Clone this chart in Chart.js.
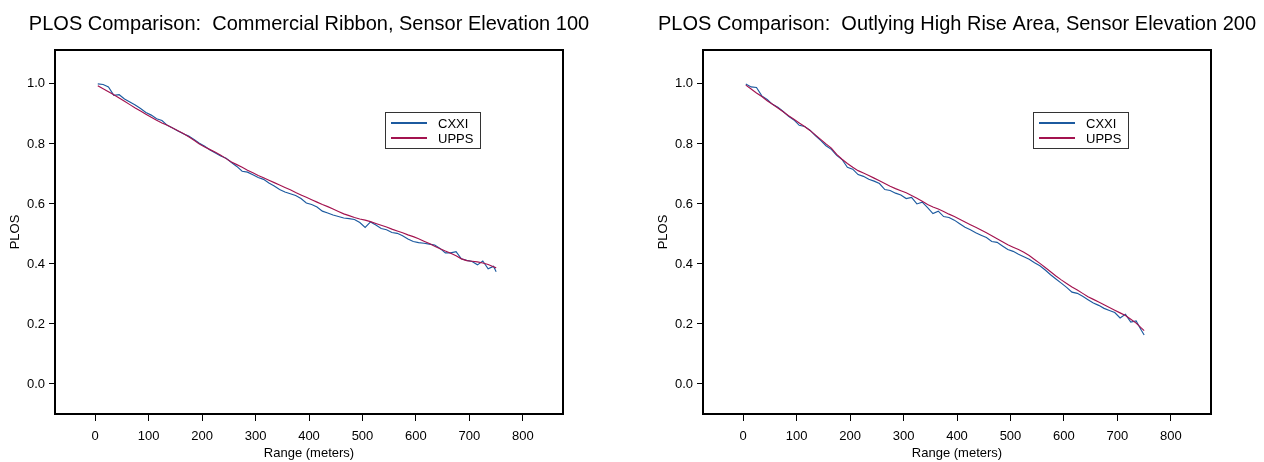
<!DOCTYPE html>
<html>
<head>
<meta charset="utf-8">
<script src="https://cdn.jsdelivr.net/npm/chart.js@4/dist/chart.umd.min.js"></script>
<style>
  body { margin: 0; background: #fff; overflow: hidden; width: 1264px; height: 462px; position: relative; }
  canvas { position: absolute; top: 0; }
</style>
</head>
<body>
<canvas id="chartLeft" width="618" height="462" style="left:0"></canvas>
<canvas id="chartRight" width="618" height="462" style="left:648px"></canvas>
<script>
// --- Data
const rangeM = [5, 15, 25, 35, 45, 55, 65, 75, 85, 95, 105, 115, 125, 135, 145, 155, 165, 175, 185, 195,
  205, 215, 225, 235, 245, 255, 265, 275, 285, 295, 305, 315, 325, 335, 345, 355, 365, 375, 385, 395,
  405, 415, 425, 435, 445, 455, 465, 475, 485, 495, 505, 515, 525, 535, 545, 555, 565, 575, 585, 595,
  605, 615, 625, 635, 645, 655, 665, 675, 685, 695, 705, 715, 725, 735, 745, 750];

const ribbonCXXI = [1.000, 0.998, 0.990, 0.962, 0.964, 0.950, 0.940, 0.930, 0.918, 0.905, 0.896, 0.884, 0.878, 0.862, 0.853, 0.843, 0.834, 0.826, 0.815, 0.802,
  0.792, 0.780, 0.770, 0.760, 0.752, 0.738, 0.725, 0.709, 0.706, 0.697, 0.688, 0.682, 0.670, 0.660, 0.648, 0.640, 0.634, 0.628, 0.618, 0.603,
  0.598, 0.590, 0.576, 0.570, 0.563, 0.558, 0.553, 0.551, 0.548, 0.538, 0.522, 0.540, 0.530, 0.518, 0.514, 0.505, 0.502, 0.494, 0.483, 0.475,
  0.471, 0.469, 0.466, 0.463, 0.452, 0.437, 0.437, 0.441, 0.417, 0.412, 0.408, 0.397, 0.410, 0.384, 0.392, 0.374];
const ribbonUPPS = [0.994, 0.984, 0.974, 0.964, 0.953, 0.942, 0.931, 0.920, 0.910, 0.899, 0.889, 0.879, 0.870, 0.862, 0.853, 0.844, 0.835, 0.824, 0.812, 0.800,
  0.790, 0.781, 0.772, 0.762, 0.751, 0.740, 0.731, 0.722, 0.712, 0.704, 0.695, 0.687, 0.679, 0.671, 0.663, 0.655, 0.647, 0.638, 0.630, 0.622,
  0.614, 0.606, 0.598, 0.591, 0.583, 0.575, 0.567, 0.561, 0.555, 0.550, 0.546, 0.541, 0.535, 0.529, 0.523, 0.516, 0.510, 0.504, 0.497, 0.491,
  0.484, 0.476, 0.468, 0.459, 0.451, 0.443, 0.436, 0.427, 0.417, 0.411, 0.409, 0.407, 0.403, 0.398, 0.391, 0.387];

const highRiseCXXI = [1.000, 0.990, 0.988, 0.960, 0.948, 0.932, 0.922, 0.908, 0.892, 0.880, 0.862, 0.858, 0.846, 0.828, 0.812, 0.794, 0.782, 0.762, 0.748, 0.722,
  0.716, 0.698, 0.692, 0.682, 0.676, 0.668, 0.648, 0.645, 0.636, 0.630, 0.618, 0.622, 0.600, 0.606, 0.588, 0.568, 0.576, 0.558, 0.555, 0.546,
  0.534, 0.522, 0.514, 0.504, 0.496, 0.488, 0.475, 0.472, 0.460, 0.448, 0.442, 0.432, 0.424, 0.416, 0.404, 0.394, 0.380, 0.364, 0.350, 0.336,
  0.322, 0.306, 0.302, 0.292, 0.281, 0.270, 0.262, 0.252, 0.245, 0.238, 0.220, 0.232, 0.206, 0.210, 0.178, 0.163];
const highRiseUPPS = [0.996, 0.983, 0.970, 0.958, 0.944, 0.932, 0.920, 0.907, 0.894, 0.882, 0.870, 0.858, 0.845, 0.830, 0.815, 0.800, 0.786, 0.765, 0.749, 0.735,
  0.722, 0.711, 0.703, 0.695, 0.686, 0.677, 0.668, 0.659, 0.651, 0.644, 0.637, 0.628, 0.619, 0.609, 0.598, 0.590, 0.583, 0.575, 0.566, 0.558,
  0.549, 0.540, 0.531, 0.522, 0.513, 0.504, 0.494, 0.484, 0.474, 0.464, 0.456, 0.448, 0.439, 0.428, 0.415, 0.402, 0.388, 0.374, 0.360, 0.347,
  0.335, 0.323, 0.313, 0.302, 0.291, 0.282, 0.273, 0.264, 0.255, 0.246, 0.237, 0.228, 0.216, 0.203, 0.186, 0.178];

const seriesNames = ["CXXI", "UPPS"];
const xTicks = [0, 100, 200, 300, 400, 500, 600, 700, 800];
const yTicks = [0.0, 0.2, 0.4, 0.6, 0.8, 1.0];

const FONT = "'Liberation Sans', Arial, Helvetica, sans-serif";
const BLUE = "#1c5a9f";
const RED = "#a3134f";

// frame round the plot area
const framePlugin = {
  id: "frame",
  afterDatasetsDraw(chart) {
    const a = chart.chartArea, ctx = chart.ctx;
    ctx.save();
    ctx.strokeStyle = "#000";
    ctx.lineWidth = 2;
    ctx.strokeRect(a.left, a.top, a.right - a.left, a.bottom - a.top);
    ctx.restore();
  }
};

// boxed legend inside the plot, like the original
const boxLegend = {
  id: "boxLegend",
  afterDraw(chart) {
    const a = chart.chartArea, ctx = chart.ctx;
    const bx = a.left + 330, by = a.top + 62;
    ctx.save();
    ctx.fillStyle = "#fff";
    ctx.fillRect(bx, by, 95, 36);
    ctx.strokeStyle = "#333";
    ctx.lineWidth = 1;
    ctx.strokeRect(bx + 0.5, by + 0.5, 95, 36);
    chart.data.datasets.forEach((ds, i) => {
      const y = by + 11 + i * 15;
      ctx.strokeStyle = ds.borderColor;
      ctx.lineWidth = 2;
      ctx.beginPath();
      ctx.moveTo(bx + 6, y);
      ctx.lineTo(bx + 42, y);
      ctx.stroke();
      ctx.fillStyle = "#000";
      ctx.font = "13px " + FONT;
      ctx.textBaseline = "middle";
      ctx.fillText(ds.label, bx + 53, y + 1);
    });
    ctx.restore();
  }
};

function makeChart(canvasId, title, cxxi, upps) {
  const toXY = arr => arr.map((v, i) => ({ x: rangeM[i], y: v }));
  return new Chart(document.getElementById(canvasId), {
    type: "line",
    data: {
      datasets: [
        { label: seriesNames[0], data: toXY(cxxi), borderColor: BLUE, borderWidth: 1.15, pointRadius: 0, tension: 0, order: 1 },
        { label: seriesNames[1], data: toXY(upps), borderColor: RED, borderWidth: 1.15, pointRadius: 0, tension: 0, order: 0 }
      ]
    },
    options: {
      responsive: false,
      animation: false,
      devicePixelRatio: 1,
      layout: { padding: 0 },
      plugins: {
        legend: { display: false },
        tooltip: { enabled: false },
        title: {
          display: true,
          text: title,
          color: "#000",
          font: { family: FONT, size: 20, weight: "normal", lineHeight: 1.2 },
          padding: { top: 12, bottom: 14 }
        }
      },
      scales: {
        x: {
          type: "linear",
          min: -75,
          max: 875,
          afterBuildTicks: s => { s.ticks = xTicks.map(v => ({ value: v })); },
          afterFit: s => { s.height = 48; },
          grid: { drawOnChartArea: false, drawTicks: true, tickLength: 7, color: "#000" },
          border: { display: false },
          ticks: { color: "#000", font: { family: FONT, size: 13 }, padding: 8, maxRotation: 0 },
          title: { display: true, text: "Range (meters)", color: "#000", font: { family: FONT, size: 13 }, padding: { top: 0, bottom: 1 } }
        },
        y: {
          type: "linear",
          min: -0.1,
          max: 1.113,
          afterBuildTicks: s => { s.ticks = yTicks.map(v => ({ value: v })); },
          afterFit: s => { s.width = 55; },
          grid: { drawOnChartArea: false, drawTicks: true, tickLength: 6, color: "#000" },
          border: { display: false },
          ticks: { color: "#000", font: { family: FONT, size: 13 }, padding: 4, callback: v => v.toFixed(1) },
          title: { display: true, text: "PLOS", color: "#000", font: { family: FONT, size: 13 }, padding: { top: 8, bottom: 0 } }
        },
        // empty right-hand axis: keeps the plot off the right edge while the title stays centred
        yPad: {
          type: "linear",
          position: "right",
          afterFit: s => { s.width = 55; },
          grid: { display: false },
          border: { display: false },
          ticks: { display: false },
          title: { display: false }
        }
      }
    },
    plugins: [framePlugin, boxLegend]
  });
}

makeChart("chartLeft", "PLOS Comparison:  Commercial Ribbon, Sensor Elevation 100", ribbonCXXI, ribbonUPPS);
makeChart("chartRight", "PLOS Comparison:  Outlying High Rise Area, Sensor Elevation 200", highRiseCXXI, highRiseUPPS);
</script>
</body>
</html>
